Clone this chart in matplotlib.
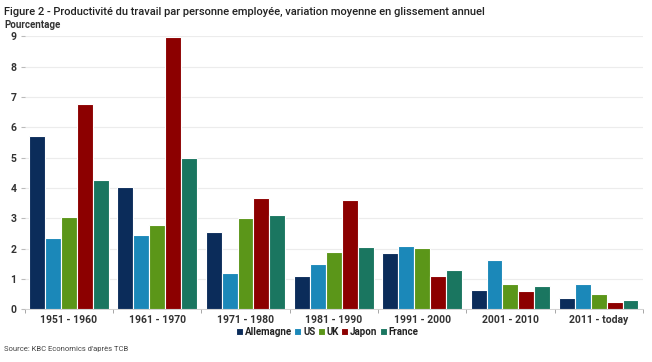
import numpy as np
import matplotlib
matplotlib.use("Agg")
import matplotlib.pyplot as plt

periods = ["1951 - 1960", "1961 - 1970", "1971 - 1980", "1981 - 1990",
           "1991 - 2000", "2001 - 2010", "2011 - today"]
countries = ["Allemagne", "US", "UK", "Japon", "France"]

allemagne = [5.71, 4.03, 2.54, 1.09, 1.85, 0.63, 0.37]
us = [2.34, 2.44, 1.19, 1.50, 2.08, 1.62, 0.82]
uk = [3.04, 2.77, 3.00, 1.88, 2.02, 0.83, 0.50]
japon = [6.76, 8.97, 3.66, 3.60, 1.09, 0.60, 0.24]
france = [4.26, 4.98, 3.10, 2.05, 1.29, 0.77, 0.29]

colors = ["#0b2c5a", "#1b88b9", "#5b9619", "#8c0000", "#1a7660"]
series = [allemagne, us, uk, japon, france]

plt.rcParams["font.family"] = ["Roboto", "DejaVu Sans"]

fig = plt.figure(figsize=(6.52, 3.62), dpi=100)
ax = fig.add_axes([0.038, 0.146, 0.948, 0.755])

x = np.arange(len(periods))
width = 0.18
for i, (name, vals) in enumerate(zip(countries, series)):
    ax.bar(x + (i - 2) * width, vals, width, color=colors[i], label=name,
           edgecolor="white", linewidth=0.8, zorder=3)

ax.set_xlim(-0.5, len(periods) - 0.5)
ax.set_ylim(0, 9.02)
ax.set_yticks(range(0, 10))
ax.set_xticks(x)
ax.set_xticklabels(periods)
ax.set_xticks(np.arange(-0.5, len(periods), 1), minor=True)
ax.tick_params(axis="x", which="major", length=0, pad=4, labelsize=7.5,
               labelcolor="#333333")
ax.tick_params(axis="x", which="minor", length=3, color="#999999")
ax.tick_params(axis="y", length=3, color="#bbbbbb", labelsize=7.5,
               labelcolor="#333333", pad=3)
for lab in ax.get_xticklabels() + ax.get_yticklabels():
    lab.set_fontweight("bold")

ax.grid(True, axis="y", color="#ececec", linewidth=0.8, zorder=0)
for s in ["top", "right", "left"]:
    ax.spines[s].set_visible(False)
ax.spines["bottom"].set_color("#cccccc")
ax.spines["bottom"].set_linewidth(0.6)

fig.text(0.006, 0.982, "Figure 2 - Productivité du travail par personne employée, "
         "variation moyenne en glissement annuel",
         fontsize=8, fontweight="medium", color="#222222", va="top", ha="left")
fig.text(0.006, 0.945, "Pourcentage", fontsize=7, fontweight="bold",
         color="#333333", va="top", ha="left")
fig.text(0.006, 0.035, "Source: KBC Economics d'après TCB", fontsize=5.5,
         color="#444444", va="center", ha="left")

fig.legend(loc="center", bbox_to_anchor=(0.502, 0.083), ncol=5, frameon=False,
           handlelength=0.7, handleheight=0.7, handletextpad=0.2,
           columnspacing=0.25, prop={"size": 7, "weight": "bold"},
           labelcolor="#222222")

fig.savefig("out.png", dpi=100)
